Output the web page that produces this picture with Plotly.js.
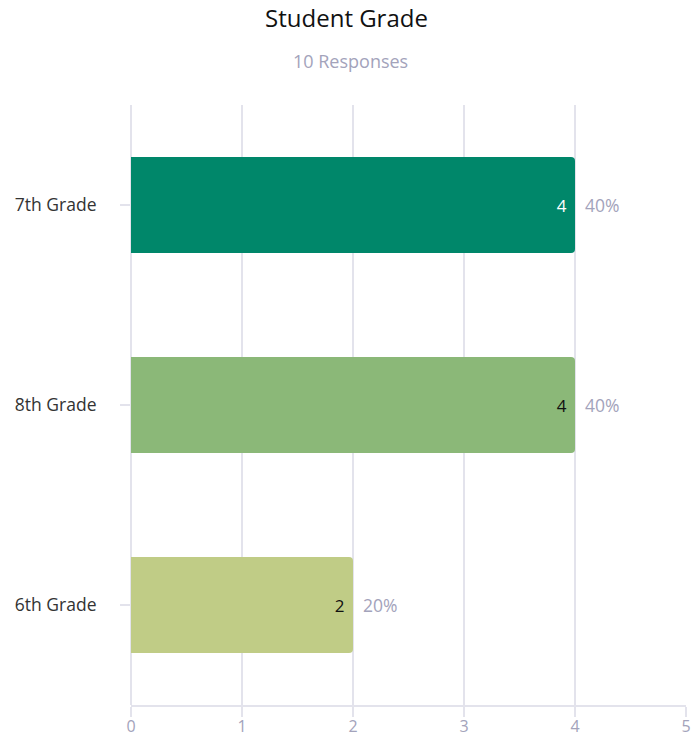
<!DOCTYPE html>
<html>
<head>
<meta charset="utf-8">
<script src="https://cdn.plot.ly/plotly-3.0.1.min.js"></script>
<style>html,body{margin:0;padding:0;background:#fff;}#chart{width:693px;height:736px;}</style>
</head>
<body>
<div id="chart"></div>
<script>
const categories = ['7th Grade', '8th Grade', '6th Grade'];
const counts = [4, 4, 2];
const percentLabels = ['40%', '40%', '20%'];
const barColors = ['#00876a', '#8bb878', '#c0cc86'];
const insideTextColors = ['#ffffff', '#111111', '#111111'];
const xTicks = [0, 1, 2, 3, 4, 5];
const totalResponses = 10;

const font = '"Open Sans", Lato, sans-serif';
const gridColor = '#e3e3ec';

const bars = {
  type: 'bar',
  orientation: 'h',
  y: categories,
  x: counts,
  marker: { color: barColors, cornerradius: 4 },
  text: counts.map(v => v + ' '),
  textposition: 'inside',
  insidetextanchor: 'end',
  textfont: { family: font, size: 17, color: insideTextColors },
  hoverinfo: 'none',
  cliponaxis: false
};

const pctAnnotations = categories.map((c, i) => ({
  x: counts[i], y: c, xref: 'x', yref: 'y',
  text: percentLabels[i],
  xanchor: 'left', yanchor: 'middle',
  xshift: 8, yshift: 0,
  showarrow: false,
  font: { family: font, size: 17.5, color: '#a3a3bb' }
}));

const layout = {
  width: 693,
  height: 736,
  margin: { l: 131, r: 7, t: 105, b: 31 },
  paper_bgcolor: '#ffffff',
  plot_bgcolor: '#ffffff',
  showlegend: false,
  bargap: 0.52,
  title: {
    text: 'Student Grade',
    font: { family: font, size: 24, color: '#111111' },
    x: 0.5, xanchor: 'center',
    y: 1 - 19 / 736, yanchor: 'middle', yref: 'container'
  },
  annotations: [{
    text: totalResponses + ' Responses',
    xref: 'paper', yref: 'paper',
    x: (350 - 131) / 555, y: 1 + (105 - 61) / 600,
    xanchor: 'center', yanchor: 'middle',
    showarrow: false,
    font: { family: font, size: 18, color: '#a3a3bb' }
  }].concat(pctAnnotations),
  xaxis: {
    range: [0, 5],
    tickvals: xTicks,
    ticktext: xTicks.map(String),
    showgrid: true,
    gridcolor: gridColor,
    gridwidth: 2,
    zeroline: true,
    zerolinecolor: gridColor,
    zerolinewidth: 2,
    showline: true,
    linecolor: gridColor,
    linewidth: 2,
    ticks: 'outside',
    ticklen: 10,
    tickcolor: gridColor,
    tickwidth: 2,
    ticklabelstandoff: -4,
    tickfont: { family: font, size: 16, color: '#a3a3bb' },
    fixedrange: true
  },
  yaxis: {
    type: 'category',
    categoryorder: 'array',
    categoryarray: categories,
    autorange: 'reversed',
    showgrid: false,
    zeroline: false,
    showline: false,
    ticks: 'outside',
    ticklen: 10,
    tickcolor: gridColor,
    tickwidth: 2,
    ticklabelstandoff: 20,
    tickfont: { family: font, size: 17.5, color: '#333333' },
    fixedrange: true
  }
};

Plotly.newPlot('chart', [bars], layout, { displayModeBar: false, staticPlot: true });
</script>
</body>
</html>
